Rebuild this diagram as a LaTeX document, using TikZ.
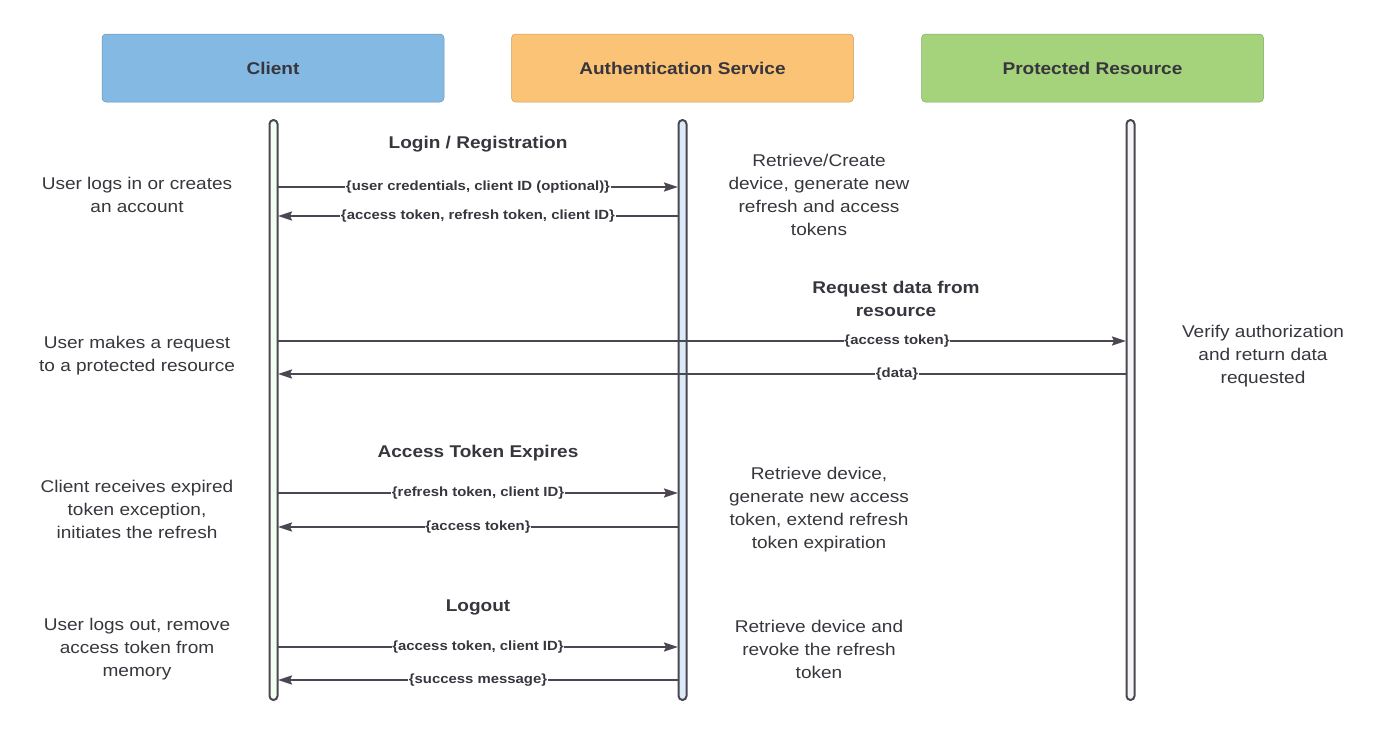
\documentclass[tikz,border=0pt]{standalone}
\usepackage{fontspec}
\setmainfont[FakeStretch=1.12]{Liberation Sans}
\usetikzlibrary{arrows.meta}
\definecolor{ink}{HTML}{4B4652}
\definecolor{txt}{HTML}{38353D}
\definecolor{cblue}{HTML}{83B9E3}
\definecolor{corange}{HTML}{FBC375}
\definecolor{cgreen}{HTML}{A4D37C}
\tikzset{
  header/.style={draw=#1!80!black, line width=0.5pt, fill=#1, rounded corners=4pt, minimum width=342pt, minimum height=68pt, inner sep=0pt, font=\fontsize{17}{20}\selectfont\bfseries, text=txt},
  lifeline/.style={draw=ink, line width=2pt, fill=#1, rounded corners=4pt, minimum width=8pt, minimum height=580pt, inner sep=0pt},
  note/.style={align=center, font=\fontsize{17}{23}\selectfont, text=txt, inner sep=0pt},
  title/.style={align=center, font=\fontsize{17}{23}\selectfont\bfseries, text=txt, inner sep=0pt},
  msg/.style={draw=ink, line width=2pt, -{Stealth[length=14pt,width=9pt,inset=2pt]}},
  lbl/.style={fill=white, inner sep=0.5pt, font=\fontsize{13.3}{15}\selectfont\bfseries, text=txt},
}
\begin{document}
\begin{tikzpicture}[x=1pt,y=-1pt]
\useasboundingbox (0,0) rectangle (1400,734);
% headers
\node[header=cblue] (hc) at (273,68) {Client};
\node[header=corange] (ha) at (682.5,68) {Authentication Service};
\node[header=cgreen] (hp) at (1092.5,68) {Protected Resource};
% lifelines
\node[lifeline=green!6] (lc) at (273.5,410) {};
\node[lifeline=cblue!30] (la) at (682.5,410) {};
\node[lifeline=black!4] (lp) at (1130.5,410) {};
% coordinates for messages
\foreach \n/\y in {1/187,2/216,3/341,4/374,5/493,6/527,7/647,8/680}{
  \coordinate (c\n) at (278,\y);
  \coordinate (a\n) at (678,\y);
  \coordinate (p\n) at (1126,\y);
}
% Login
\node[title] (t1) at (478,144) {Login / Registration};
\draw[msg] (c1) -- node[lbl] (m1) {\{user credentials, client ID (optional)\}} (a1);
\draw[msg] (a2) -- node[lbl] (m2) {\{access token, refresh token, client ID\}} (c2);
\node[note] (l1) at (137,195) {User logs in or creates\\an account};
\node[note] (r1) at (819,195) {Retrieve/Create\\device, generate new\\refresh and access\\tokens};
% Request data
\node[title] (t2) at (896,299) {Request data from\\resource};
\draw[msg] (c3) -- node[lbl, pos=0.73] (m3) {\{access token\}} (p3);
\draw[msg] (p4) -- node[lbl, pos=0.27] (m4) {\{data\}} (c4);
\node[note] (l2) at (137,356) {User makes a request\\to a protected resource};
\node[note] (r2) at (1263,356) {Verify authorization\\and return data\\requested};
% Access token expires
\node[title] (t3) at (478,453) {Access Token Expires};
\draw[msg] (c5) -- node[lbl] (m5) {\{refresh token, client ID\}} (a5);
\draw[msg] (a6) -- node[lbl] (m6) {\{access token\}} (c6);
\node[note] (l3) at (137,509) {Client receives expired\\token exception,\\initiates the refresh};
\node[note] (r3) at (819,510) {Retrieve device,\\generate new access\\token, extend refresh\\token expiration};
% Logout
\node[title] (t4) at (478,607) {Logout};
\draw[msg] (c7) -- node[lbl] (m7) {\{access token, client ID\}} (a7);
\draw[msg] (a8) -- node[lbl] (m8) {\{success message\}} (c8);
\node[note] (l4) at (137,649) {User logs out, remove\\access token from\\memory};
\node[note] (r4) at (819,649) {Retrieve device and\\revoke the refresh\\token};
\end{tikzpicture}
\end{document}
